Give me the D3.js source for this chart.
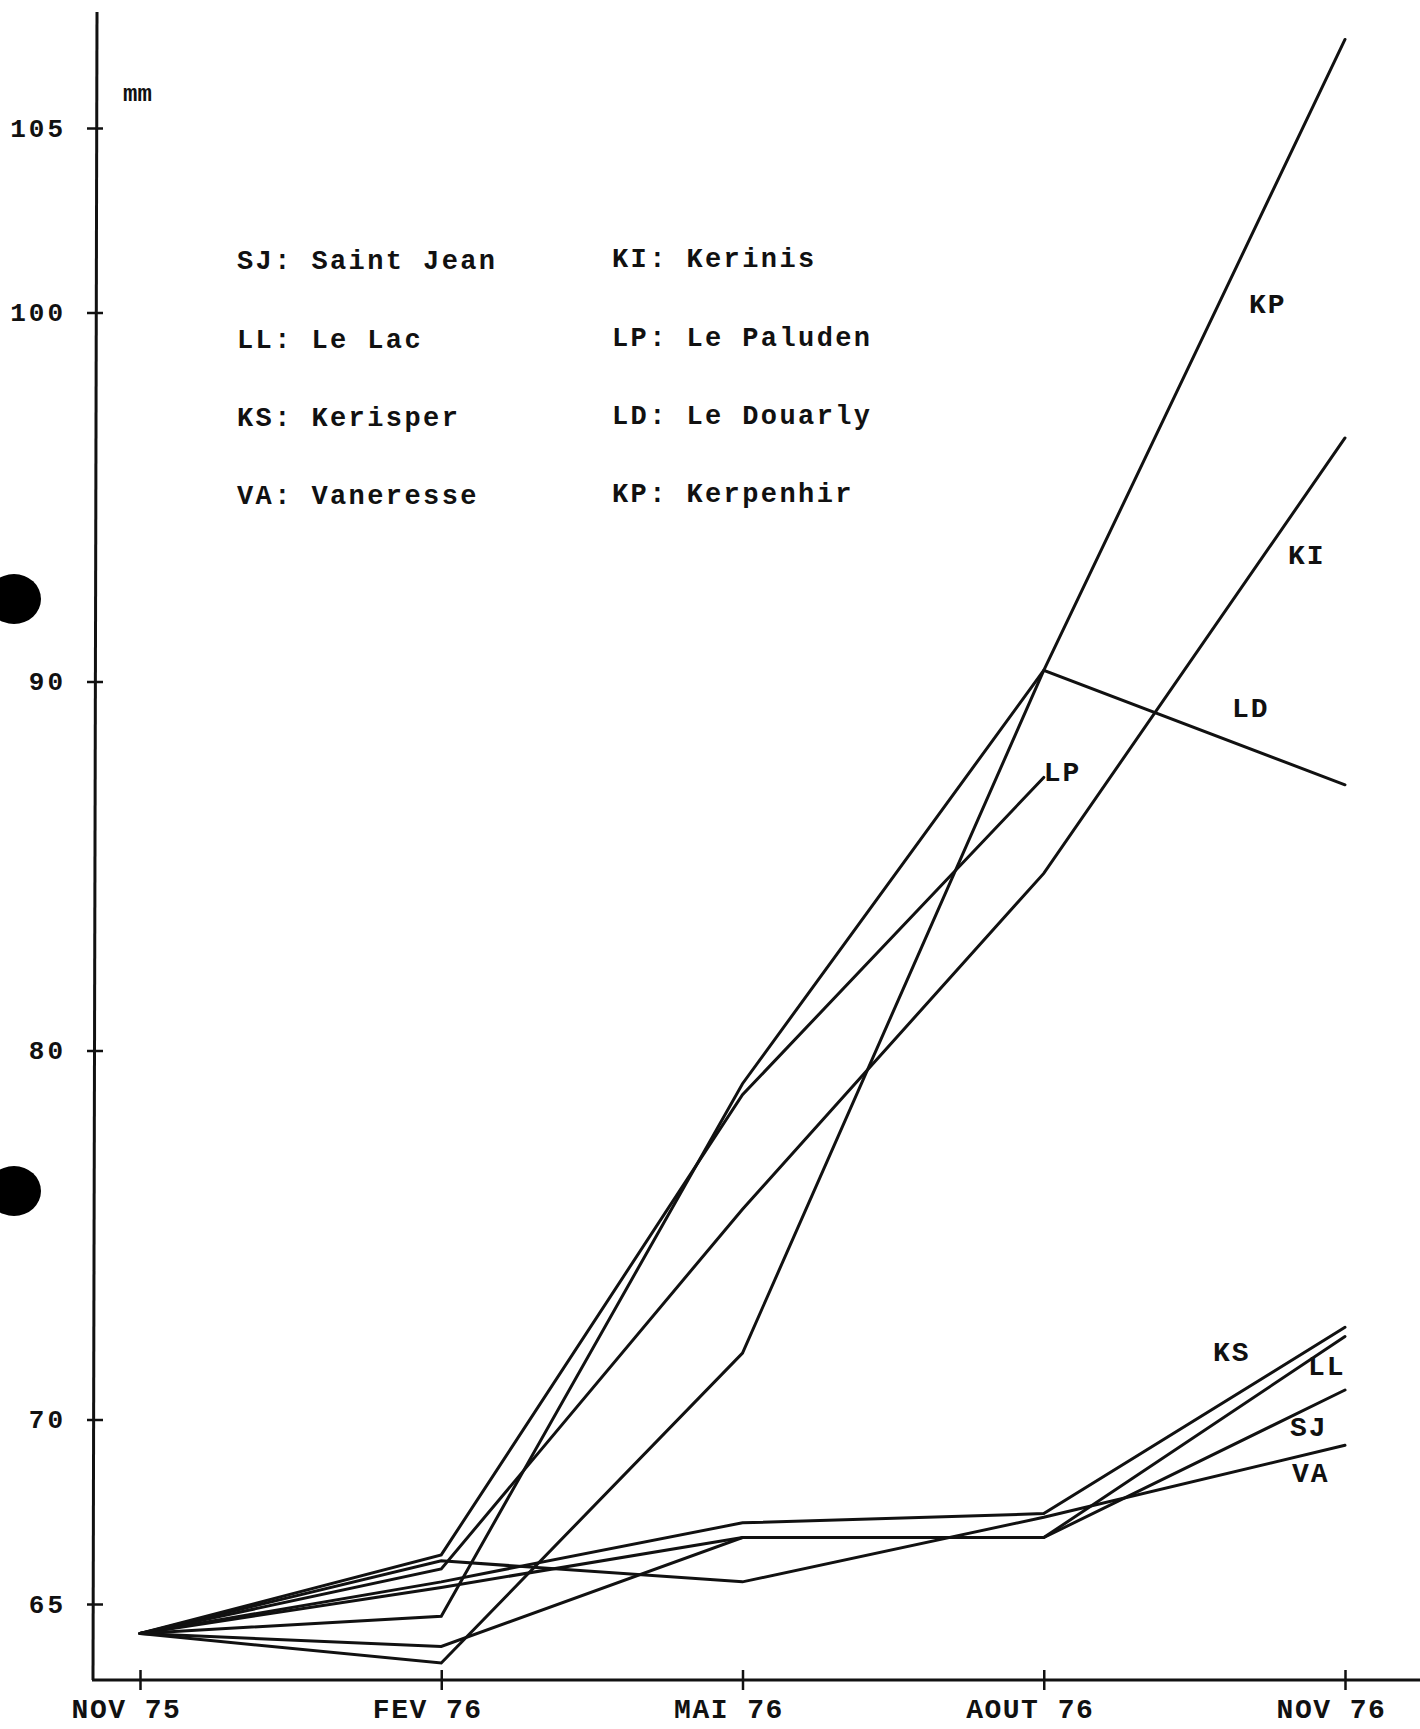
<!DOCTYPE html>
<html>
<head>
<meta charset="utf-8">
<script src="https://cdn.jsdelivr.net/npm/d3@7"></script>
<style>
  html, body { margin: 0; padding: 0; background: #fff; }
  svg { display: block; }
  text { font-family: "Liberation Mono", "DejaVu Sans Mono", monospace; fill: #111; }
</style>
</head>
<body>
<svg id="chart" width="1420" height="1729"></svg>
<script>
// ---- data ----
const months = ["NOV 75", "FEV 76", "MAI 76", "AOUT 76", "NOV 76"];
const yTickValues = [65, 70, 80, 90, 100, 105];

const SJ = [64.2, 63.85, 66.8, 66.8, 70.8];
const LL = [64.2, 65.45, 66.8, 66.8, 72.25];
const KS = [64.2, 65.6, 67.2, 67.45, 72.5];
const VA = [64.2, 66.17, 65.6, 67.35, 69.3];
const KI = [64.2, 65.95, 75.7, 84.8, 96.6];
const LP = [64.2, 66.33, 78.8, 87.4, null];
const LD = [64.2, 64.67, 79.1, 90.3, 87.2];
const KP = [64.2, 63.4, 71.8, 90.3, 107.4];

const seriesCodes = ["SJ", "LL", "KS", "VA", "KI", "LP", "LD", "KP"];
const seriesValues = [SJ, LL, KS, VA, KI, LP, LD, KP];

const legendLeft = ["SJ: Saint Jean", "LL: Le Lac", "KS: Kerisper", "VA: Vaneresse"];
const legendRight = ["KI: Kerinis", "LP: Le Paluden", "LD: Le Douarly", "KP: Kerpenhir"];

// label anchors: [code, month index, value]
const labelAnchors = [
  ["KP", 4, 100.2], ["KI", 4, 93.4], ["LD", 4, 89.25], ["LP", 3, 87.5],
  ["KS", 4, 71.8], ["LL", 4, 71.4], ["SJ", 4, 69.75], ["VA", 4, 68.5]
];
const labelDx = { KP: -96, KI: -57, LD: -113, LP: 0, KS: -132, LL: -37, SJ: -55, VA: -53 };

// ---- layout ----
const svg = d3.select("#chart");
const x = d3.scalePoint().domain(months).range([140, 1345]);
const y = d3.scaleLinear().domain([65, 105]).range([1604, 128]);
const axisX = 95, axisY = 1680;

// binder holes (scan artefacts)
svg.append("ellipse").attr("cx", 14).attr("cy", 599).attr("rx", 27).attr("ry", 25).attr("fill", "#000");
svg.append("ellipse").attr("cx", 14).attr("cy", 1191).attr("rx", 27).attr("ry", 25).attr("fill", "#000");

// Y axis
const gy = svg.append("g").attr("transform", `translate(${axisX},0)`)
  .call(d3.axisLeft(y).tickValues(yTickValues).tickSize(0).tickPadding(29).tickFormat(d3.format("d")));
gy.select(".domain").remove();
gy.selectAll(".tick line").attr("x1", -8).attr("x2", 8).attr("stroke", "#111").attr("stroke-width", 2.5);
gy.selectAll(".tick text")
  .style("font-size", "26px").style("letter-spacing", "3px").style("font-weight", "bold")
  .attr("fill", "#111").attr("font-family", null);
svg.append("line").attr("x1", axisX + 2).attr("y1", 12).attr("x2", axisX - 2).attr("y2", axisY)
  .attr("stroke", "#111").attr("stroke-width", 3);

// X axis
const gx = svg.append("g").attr("transform", `translate(0,${axisY})`)
  .call(d3.axisBottom(x).tickSize(0).tickPadding(18));
gx.select(".domain").remove();
gx.selectAll(".tick line").attr("y1", -10).attr("y2", 10).attr("stroke", "#111").attr("stroke-width", 2.5);
gx.selectAll(".tick text")
  .style("font-size", "28px").style("font-weight", "bold").style("letter-spacing", "1.5px")
  .attr("dx", "-14").attr("fill", "#111").attr("font-family", null);
svg.append("line").attr("x1", axisX - 3).attr("y1", axisY).attr("x2", 1420).attr("y2", axisY)
  .attr("stroke", "#111").attr("stroke-width", 3);

// unit
svg.append("text").attr("x", 123).attr("y", 101).text("mm")
  .style("font-size", "24px").style("font-weight", "bold");

// legend
const legendRowY = [262, 341, 419, 497];
legendLeft.forEach((t, i) => {
  svg.append("text").attr("x", 237).attr("y", legendRowY[i]).attr("dominant-baseline", "central")
    .text(t).style("font-size", "27px").style("letter-spacing", "2.4px").style("font-weight", "bold");
});
legendRight.forEach((t, i) => {
  svg.append("text").attr("x", 612).attr("y", legendRowY[i] - 2).attr("dominant-baseline", "central")
    .text(t).style("font-size", "27px").style("letter-spacing", "2.4px").style("font-weight", "bold");
});

// lines
const line = d3.line()
  .defined(d => d.v !== null)
  .x(d => x(d.m))
  .y(d => y(d.v));

seriesValues.forEach((vals, i) => {
  const pts = vals.map((v, j) => ({ m: months[j], v: v }));
  svg.append("path").datum(pts).attr("d", line)
    .attr("fill", "none").attr("stroke", "#111").attr("stroke-width", 3)
    .attr("stroke-linejoin", "miter").attr("stroke-linecap", "round");
});

// series labels
labelAnchors.forEach(([code, mi, v]) => {
  svg.append("text").attr("x", x(months[mi]) + labelDx[code]).attr("y", y(v))
    .attr("dominant-baseline", "central").text(code)
    .style("font-size", "28px").style("letter-spacing", "2px").style("font-weight", "bold");
});
</script>
</body>
</html>
